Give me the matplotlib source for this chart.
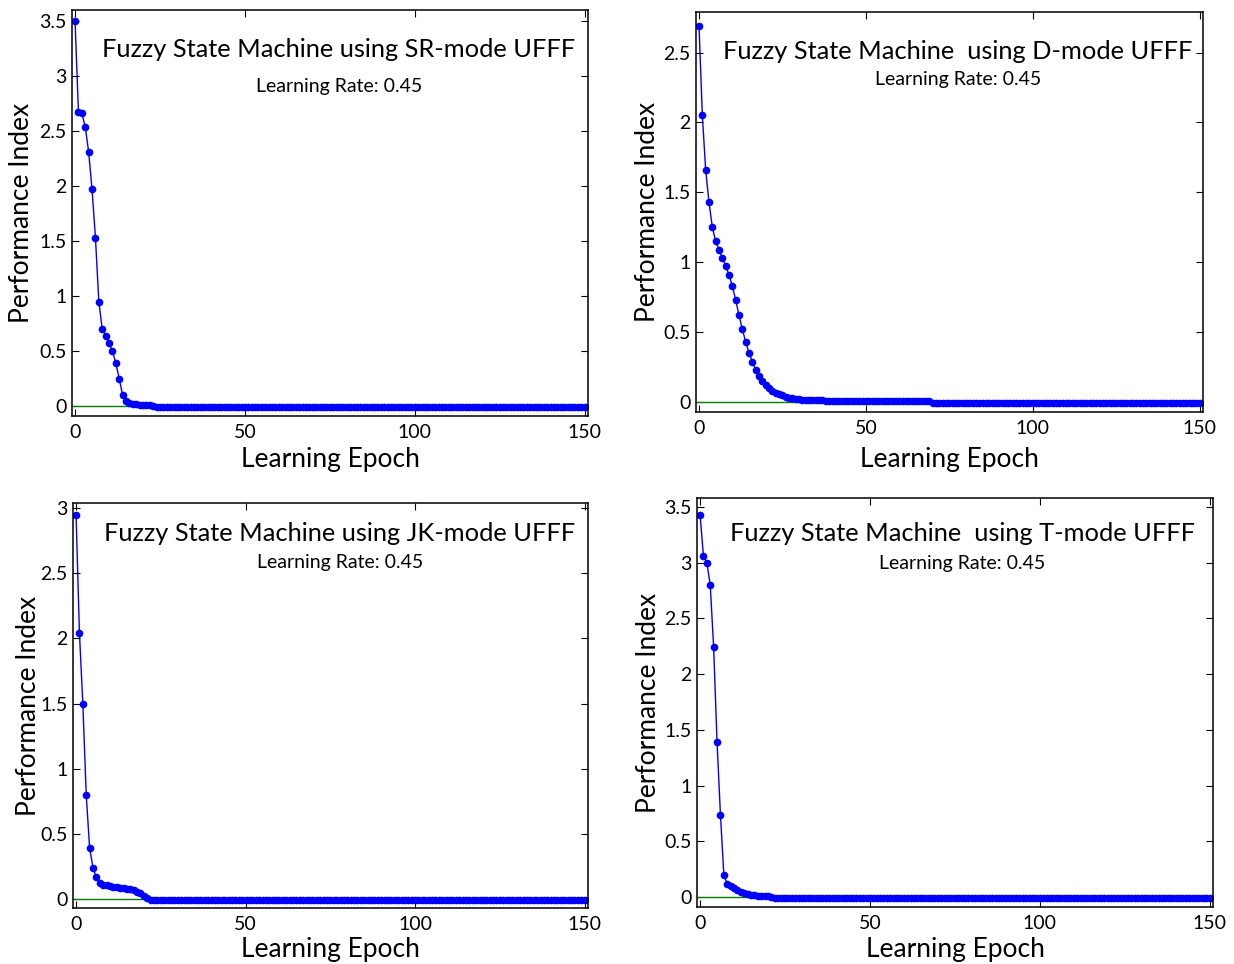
import matplotlib.pyplot as plt
import numpy as np

plt.rcParams['font.family'] = ['Lato', 'DejaVu Sans']

# values, epochs 0..150
sr_head = [3.50, 2.67, 2.66, 2.54, 2.31, 1.97, 1.53, 0.95, 0.70, 0.64,
           0.57, 0.50, 0.39, 0.25, 0.10, 0.05, 0.03, 0.02, 0.015, 0.012,
           0.010, 0.010, 0.008, 0.005, -0.005]
sr_tail = [-0.012] * (151 - len(sr_head))

d_head = [2.69, 2.05, 1.66, 1.43, 1.25, 1.15, 1.09, 1.03, 0.975, 0.91,
          0.83, 0.73, 0.62, 0.52, 0.43, 0.35, 0.29, 0.23, 0.19, 0.155,
          0.12, 0.10, 0.083, 0.069, 0.057, 0.048, 0.040, 0.033, 0.029, 0.024,
          0.021, 0.019, 0.018, 0.017, 0.016, 0.015, 0.014, 0.013, 0.012, 0.011,
          0.010]
d_mid = [0.008] * 29
d_tail = [-0.004] * (151 - len(d_head) - len(d_mid))

jk_head = [2.95, 2.04, 1.50, 0.80, 0.39, 0.24, 0.165, 0.125, 0.11, 0.103,
           0.098, 0.092, 0.088, 0.085, 0.082, 0.079, 0.074, 0.066, 0.056, 0.045,
           0.025, 0.005]
jk_tail = [-0.01] * (151 - len(jk_head))

t_head = [3.43, 3.06, 3.00, 2.80, 2.24, 1.39, 0.74, 0.20, 0.113, 0.098,
          0.080, 0.060, 0.042, 0.033, 0.025, 0.020, 0.015, 0.012, 0.010, 0.008,
          0.005, 0.000]
t_tail = [-0.008] * (151 - len(t_head))

series = [sr_head + sr_tail, d_head + d_mid + d_tail, jk_head + jk_tail, t_head + t_tail]
titles = ['Fuzzy State Machine using SR-mode UFFF',
          'Fuzzy State Machine  using D-mode UFFF',
          'Fuzzy State Machine using JK-mode UFFF',
          'Fuzzy State Machine  using T-mode UFFF']
subtitle = 'Learning Rate: 0.45'
ylims = [(-0.09, 3.6), (-0.07, 2.79), (-0.07, 3.04), (-0.09, 3.58)]
y_tops = [3.5, 2.5, 3.0, 3.5]

W, H = 1234, 964
boxes = [(72, 10, 588, 416), (696, 12, 1203, 412), (73, 503, 588, 908), (697, 498, 1213, 907)]
title_pos = [(0.517, 0.902, 0.812), (0.517, 0.9005, 0.83), (0.518, 0.924, 0.852), (0.514, 0.912, 0.841)]
# label centres in pixels: (ylabel x, xlabel y)
label_px = [(22, 459), (648, 459), (29, 949), (648, 949)]

fig = plt.figure(figsize=(W / 100, H / 100), dpi=100)
for i in range(4):
    x0, y0, x1, y1 = boxes[i]
    ax = fig.add_axes([x0 / W, 1 - y1 / H, (x1 - x0) / W, (y1 - y0) / H])
    vals = series[i]
    epochs = np.arange(len(vals))
    ax.axhline(0, color='green', lw=1)
    ax.plot(epochs, vals, '-o', color='blue', lw=1, ms=4.5)
    ax.set_xlim(-0.9, 151)
    ax.set_ylim(*ylims[i])
    ax.set_xticks([0, 50, 100, 150])
    ax.set_yticks(np.arange(0, y_tops[i] + 0.01, 0.5))
    ax.set_yticklabels(['%g' % v for v in np.arange(0, y_tops[i] + 0.01, 0.5)])
    ax.tick_params(direction='in', top=True, right=True, length=5, labelsize=14)
    ax.tick_params(axis='x', pad=6)
    ax.tick_params(axis='y', pad=4)
    for s in ax.spines.values():
        s.set_linewidth(1.1)
    ax.set_xlabel('Learning Epoch', fontsize=19, va='center')
    ax.set_ylabel('Performance Index', fontsize=19, va='center')
    lx, ly = label_px[i]
    ax.yaxis.set_label_coords((lx - x0) / (x1 - x0), 0.5)
    ax.xaxis.set_label_coords(0.5, (y1 - ly) / (y1 - y0))
    tx, ty, sy = title_pos[i]
    ax.text(tx, ty, titles[i], transform=ax.transAxes, ha='center', va='center', fontsize=18.3)
    ax.text(tx, sy, subtitle, transform=ax.transAxes, ha='center', va='center', fontsize=14)

fig.savefig('out.png', dpi=100)
